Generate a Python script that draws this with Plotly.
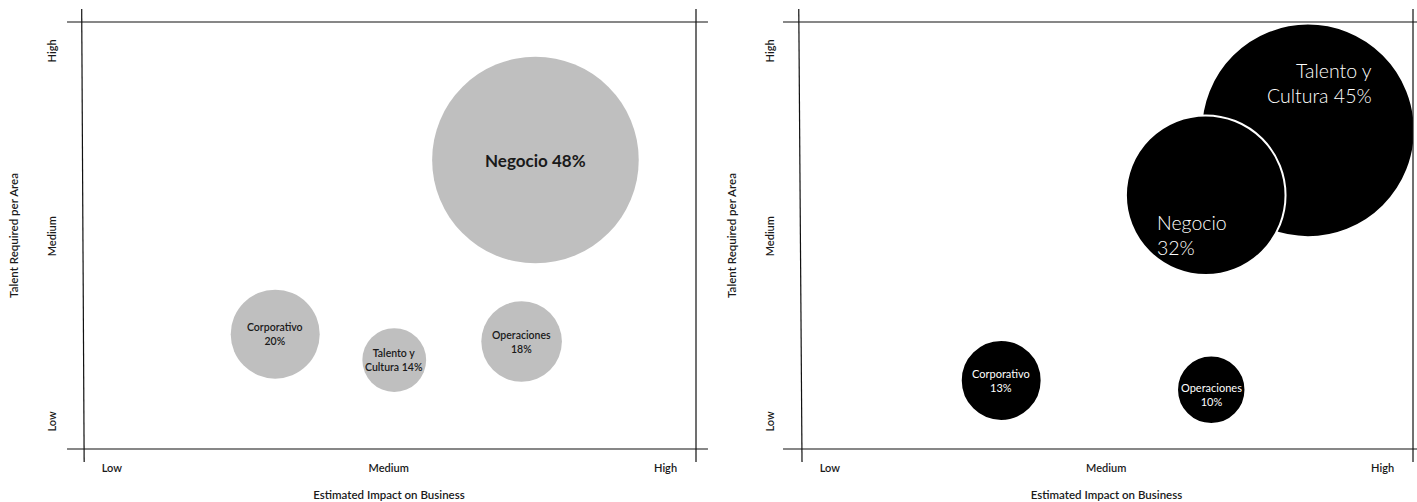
import plotly.graph_objects as go

# Left matrix: share of talent per business area
areas_left = ["Negocio", "Corporativo", "Talento y Cultura", "Operaciones"]
share_left = [48, 20, 14, 18]
impact_left = [2.53, 1.59, 2.02, 2.48]
talent_left = [2.42, 1.48, 1.34, 1.44]

# Right matrix
areas_right = ["Talento y Cultura", "Negocio", "Corporativo", "Operaciones"]
share_right = [45, 32, 13, 10]
impact_right = [2.73, 2.36, 1.62, 2.38]
talent_right = [2.58, 2.23, 1.23, 1.18]

levels = [1, 2, 3]
level_labels = ["Low", "Medium", "High"]

FONT = "Lato"
INK = "#1a1a1a"


def bubble_text(name, value, one_line=False):
    if one_line:
        return f"{name} {value}%"
    if name == "Talento y Cultura":
        return f"Talento y<br>Cultura {value}%"
    return f"{name}<br>{value}%"


fig = go.Figure()

fig.add_trace(go.Scatter(
    x=impact_left, y=talent_left, mode="markers",
    marker=dict(size=[5 + 4.2 * v for v in share_left], sizemode="diameter",
                color="#bfbfbf", line=dict(width=0), opacity=1),
    xaxis="x", yaxis="y", hoverinfo="skip", showlegend=False,
))

fig.add_trace(go.Scatter(
    x=impact_right, y=talent_right, mode="markers",
    marker=dict(size=[27 + 4.145 * v for v in share_right], sizemode="diameter",
                color="#000000", line=dict(width=2, color="#ffffff"), opacity=1),
    xaxis="x2", yaxis="y2", hoverinfo="skip", showlegend=False,
))

annotations = []

# Labels inside the grey bubbles
for name, v, x, y in zip(areas_left, share_left, impact_left, talent_left):
    big = v == max(share_left)
    annotations.append(dict(
        x=x, y=y, xref="x", yref="y", showarrow=False,
        text=bubble_text(name, v, one_line=big),
        font=dict(family=FONT, size=17 if big else 10.5, color=INK,
                  weight="bold" if big else 600),
        align="center",
    ))

# Labels inside the black bubbles
right_offsets = {
    "Talento y Cultura": dict(xanchor="right", align="right", xshift=66, yshift=47, size=19.5),
    "Negocio": dict(xanchor="left", align="left", xshift=-51, yshift=-40, size=19.5),
    "Corporativo": dict(xanchor="center", align="center", xshift=0, yshift=0, size=11),
    "Operaciones": dict(xanchor="center", align="center", xshift=0, yshift=-5, size=11),
}
for name, v, x, y in zip(areas_right, share_right, impact_right, talent_right):
    o = right_offsets[name]
    annotations.append(dict(
        x=x, y=y, xref="x2", yref="y2", showarrow=False,
        text=bubble_text(name, v),
        xanchor=o["xanchor"], align=o["align"], xshift=o["xshift"], yshift=o["yshift"],
        font=dict(family=FONT, size=o["size"], color="#ffffff",
                  weight=300 if o["size"] > 12 else "normal"),
    ))

# Frame lines that cross at the corners
shapes = []
line_style = dict(color="#111111", width=1.2)
for xd, yd, hx0, hx1, vx_top, vx_bot in [
    ("x domain", "y domain", -0.0244, 1.0195, -0.0005, 0.0035),
    ("x2 domain", "y2 domain", -0.0277, 1.02, -0.002, 0.0033),
]:
    shapes.append(dict(type="line", xref=xd, yref=yd, x0=hx0, x1=hx1, y0=1, y1=1, line=line_style))
    shapes.append(dict(type="line", xref=xd, yref=yd, x0=hx0, x1=hx1, y0=0, y1=0, line=line_style))
    shapes.append(dict(type="line", xref=xd, yref=yd, x0=vx_top, x1=vx_bot, y0=1.0304, y1=-0.0304, line=line_style))
    shapes.append(dict(type="line", xref=xd, yref=yd, x0=1, x1=1, y0=1.0304, y1=-0.0304, line=line_style))

tick_font = dict(family=FONT, size=11, color=INK, weight=600)
title_font = dict(family=FONT, size=11.5, color=INK, weight=600)

x_common = dict(
    range=[0.892, 3.11], showgrid=False, zeroline=False, showline=False,
    tickmode="array", tickvals=levels, ticktext=level_labels, ticks="",
    tickfont=tick_font, ticklabelstandoff=11, automargin=False, fixedrange=True,
    title=dict(text="Estimated Impact on Business", font=title_font, standoff=17),
)
y_common = dict(
    range=[0.86, 3.165], showgrid=False, zeroline=False, showline=False,
    tickmode="array", tickvals=levels, ticktext=level_labels, ticks="",
    tickangle=-90, tickfont=tick_font, ticklabelstandoff=23, automargin=False,
    fixedrange=True,
    title=dict(text="Talent Required per Area", font=title_font, standoff=23),
)

fig.update_layout(
    width=1417, height=502,
    margin=dict(l=0, r=0, t=0, b=0),
    paper_bgcolor="#ffffff", plot_bgcolor="#ffffff",
    xaxis=dict(domain=[0.05787, 0.49118], anchor="y", **x_common),
    yaxis=dict(domain=[0.10558, 0.95618], anchor="x", **y_common),
    xaxis2=dict(domain=[0.56457, 0.99718], anchor="y2", **x_common),
    yaxis2=dict(domain=[0.10558, 0.95618], anchor="x2", **y_common),
    annotations=annotations,
    shapes=shapes,
    showlegend=False,
)

fig.write_html("out.html")
